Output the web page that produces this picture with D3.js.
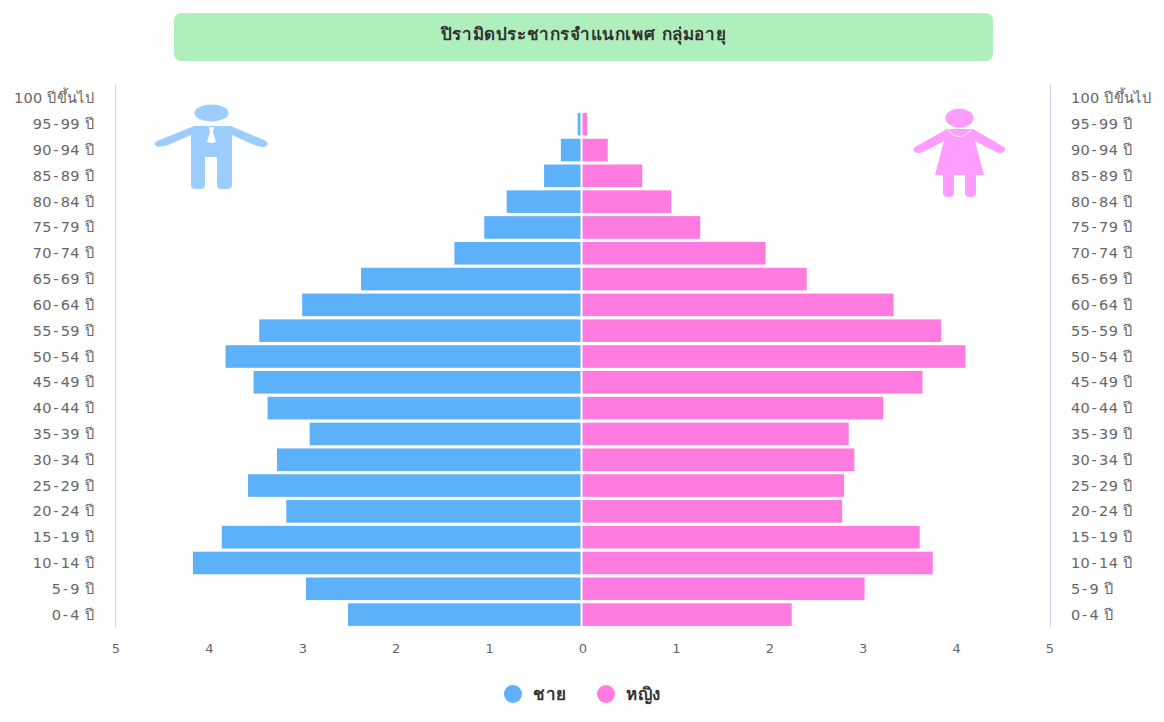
<!DOCTYPE html>
<html><head><meta charset="utf-8">
<script src="https://cdn.jsdelivr.net/npm/d3@7/dist/d3.min.js"></script>
<style>html,body{margin:0;padding:0;background:#fff}svg{display:block;font-family:"DejaVu Sans","Noto Sans",sans-serif}</style>
</head><body><svg id="c" width="1164" height="722"></svg>
<script>
const titleText = "ปิรามิดประชากรจำแนกเพศ กลุ่มอายุ";
const ageGroups = ["100 ปีขึ้นไป","95-99 ปี","90-94 ปี","85-89 ปี","80-84 ปี","75-79 ปี","70-74 ปี","65-69 ปี","60-64 ปี","55-59 ปี","50-54 ปี","45-49 ปี","40-44 ปี","35-39 ปี","30-34 ปี","25-29 ปี","20-24 ปี","15-19 ปี","10-14 ปี","5-9 ปี","0-4 ปี"];
const male = [0,0.03,0.21,0.39,0.79,1.03,1.35,2.35,2.98,3.44,3.80,3.50,3.35,2.90,3.25,3.56,3.15,3.84,4.15,2.94,2.49];
const female = [0,0.05,0.27,0.64,0.95,1.26,1.96,2.40,3.33,3.84,4.10,3.64,3.22,2.85,2.91,2.80,2.78,3.61,3.75,3.02,2.24];
const xTicks = [-5,-4,-3,-2,-1,0,1,2,3,4,5];
const seriesNames = ["ชาย","หญิง"];
const seriesColors = ["#5db1f9","#ff7bdf"];

const svg = d3.select("#c");
const x = d3.scaleLinear().domain([-5,5]).range([116,1050]);
const y = d3.scaleBand().domain(ageGroups).range([85.5,627.5]).padding(0);
const txt = "#666666";

svg.append("rect").attr("x",174).attr("y",13).attr("width",819).attr("height",48).attr("rx",7).attr("fill","#aeefbb");
svg.append("text").attr("x",583.5).attr("y",40).attr("text-anchor","middle").attr("font-size",17).attr("letter-spacing",0.6).attr("font-weight",700).attr("fill","#333").text(titleText);

const bar = (vals, cls, color, f) => svg.selectAll("rect."+cls).data(vals).join("rect").attr("class",cls)
  .attr("y",(d,i)=>y(ageGroups[i])+1.6).attr("height",y.bandwidth()-3.2)
  .attr("x",d=>f(d)[0]).attr("width",d=>Math.max(0,f(d)[1])).attr("fill",color);
bar(male,"m",seriesColors[0],d=>[x(-d)-2.5,x(0)-x(-d)]);
bar(female,"f",seriesColors[1],d=>[x(0)-0.5,x(d)-x(0)]);

[115.5,1050.5].forEach(px=>svg.append("line").attr("x1",px).attr("x2",px).attr("y1",85).attr("y2",627).attr("stroke","#ccd6eb"));

svg.append("g").selectAll("text").data(xTicks).join("text").attr("x",d=>x(d)).attr("y",653)
  .attr("text-anchor","middle").attr("font-size",13).attr("fill",txt).text(d=>Math.abs(d));

const lbl = (anchor,px)=>{
  const t=svg.append("g").selectAll("text").data(ageGroups).join("text")
    .attr("x",px).attr("y",d=>y(d)+y.bandwidth()/2+5).attr("text-anchor",anchor)
    .attr("font-size",14.5).attr("letter-spacing",0.3).attr("fill",txt);
  t.each(function(d){
    const s=d3.select(this), parts=d.split("-");
    if(parts.length===2){
      s.append("tspan").text(parts[0]);
      s.append("tspan").attr("dx",1.5).text("-");
      s.append("tspan").attr("dx",2).text(parts[1]);
    } else s.text(d);
  });
};
lbl("end",94); lbl("start",1071);

seriesNames.forEach((n,i)=>{
  const cx=[513,606][i];
  svg.append("circle").attr("cx",cx).attr("cy",694).attr("r",9).attr("fill",seriesColors[i]);
  svg.append("text").attr("x",cx+20).attr("y",700).attr("font-size",17).attr("letter-spacing",0.6).attr("font-weight",700).attr("fill","#333").text(n);
});

// icons
const manC="#9dcdff", womC="#ff9dff";
const m=svg.append("g");
m.append("ellipse").attr("cx",211.5).attr("cy",113).attr("rx",17).attr("ry",8.5).attr("fill",manC);
m.append("path").attr("fill",manC).attr("d","M194 126 H231 L266 141 Q270 145 264 147 Q259 147 254 145 L232 135 V185 Q232 189 227 189 H221 Q217 189 217 185 V157 H205 V185 Q205 189 200 189 H195 Q191 189 191 185 V135 L168 145 Q160 148 156 146 Q153 143 157 141 Z");
m.append("path").attr("fill","#fff").attr("d","M209 127 H214 L213 132 L216 142 L211.5 143 L207 142 L210 132 Z");
const w=svg.append("g");
w.append("ellipse").attr("cx",959.5).attr("cy",118).attr("rx",14).attr("ry",9.5).attr("fill",womC);
w.append("path").attr("fill",womC).attr("d","M947 129 H973 L1004 147 Q1007 151 1003 152 Q1000 154 996 152 L975 141 L984 175 H935 L944 141 L923 152 Q918 154 915 152 Q912 150 915 147 Z");
w.append("path").attr("fill",womC).attr("d","M943 172 H954 V193 Q954 197 949 197 H948 Q943 197 943 193 Z M965 172 H976 V193 Q976 197 971 197 H970 Q965 197 965 193 Z");
w.append("path").attr("fill","none").attr("stroke","#fff").attr("stroke-width",1.2).attr("stroke-dasharray","1.5 1").attr("d","M948 130 Q959 143 971 130");
</script></body></html>
